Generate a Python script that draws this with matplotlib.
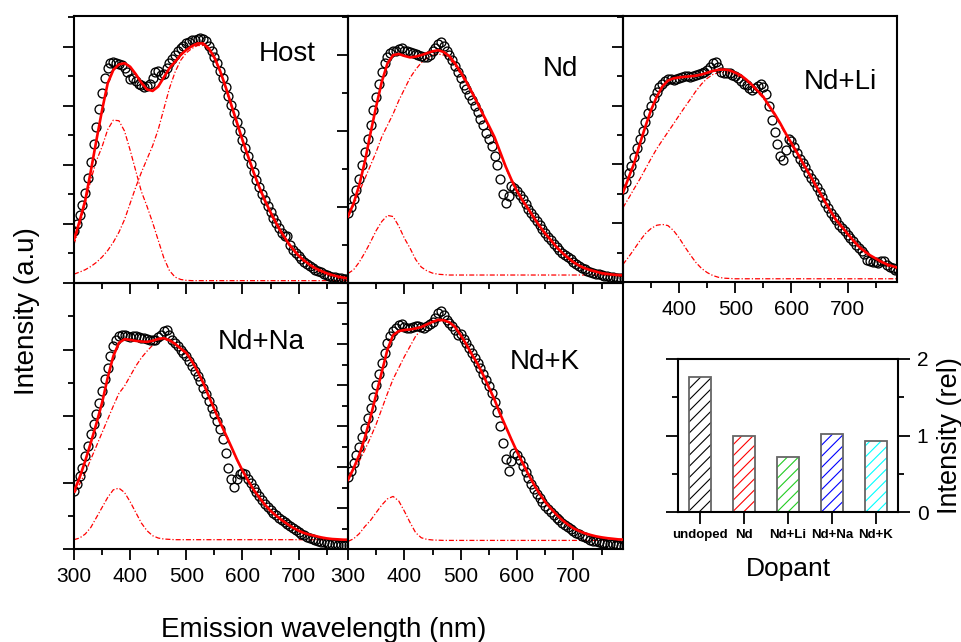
import numpy as np
import matplotlib.pyplot as plt

plt.rcParams['font.family'] = ['Liberation Sans', 'DejaVu Sans']
plt.rcParams['hatch.linewidth'] = 0.8

# wavelength grids (nm): measured points every 5 nm, fitted curves every 10 nm
wl_dat = np.arange(300, 791, 5)
wl_fit = np.arange(300, 791, 10)

# ---------------- Host ----------------
host_data = [1.75, 2.0, 2.3, 2.65, 3.05, 3.55, 4.1, 4.7, 5.3, 5.9,
             6.45, 6.95, 7.3, 7.45, 7.5, 7.45, 7.42, 7.38, 7.3, 7.15,
             6.9, 6.95, 6.85, 6.75, 6.7, 6.65, 6.68, 6.75, 6.95, 7.15,
             7.2, 7.05, 7.1, 7.3, 7.45, 7.6, 7.72, 7.85, 7.95, 8.05,
             8.12, 8.18, 8.22, 8.25, 8.28, 8.3, 8.28, 8.2, 8.05, 7.85,
             7.65, 7.45, 7.2, 6.95, 6.65, 6.35, 6.05, 5.75, 5.45, 5.15,
             4.85, 4.58, 4.3, 4.02, 3.75, 3.5, 3.25, 3.02, 2.8, 2.6,
             2.4, 2.2, 2.03, 1.86, 1.7, 1.6, 1.58, 1.3, 1.12, 1.0,
             0.9, 0.8, 0.72, 0.64, 0.56, 0.5, 0.45, 0.4, 0.36, 0.32,
             0.28, 0.25, 0.22, 0.2, 0.18, 0.16, 0.14, 0.13, 0.12]
host_fit = [1.46, 2.1, 2.8, 3.8, 4.85, 5.86, 6.77, 7.22, 7.41, 7.45,
            7.33, 7.08, 6.79, 6.56, 6.51, 6.66, 6.97, 7.28, 7.5, 7.73,
            7.9, 8.03, 8.12, 8.12, 7.95, 7.65, 7.2, 6.65, 6.05, 5.45,
            4.85, 4.3, 3.75, 3.25, 2.8, 2.4, 2.03, 1.7, 1.4, 1.15,
            0.93, 0.76, 0.62, 0.5, 0.41, 0.33, 0.27, 0.22, 0.18, 0.15]
host_g1 = [1.3, 1.95, 2.7, 3.5, 4.15, 4.62, 5.2, 5.52, 5.5, 5.15,
           4.5, 3.8, 3.1, 2.6, 2.05, 1.45, 0.85, 0.42, 0.2, 0.12,
           0.09, 0.08, 0.08, 0.08, 0.08, 0.08, 0.08, 0.08, 0.08, 0.08,
           0.08, 0.08, 0.08, 0.08, 0.08, 0.08, 0.08, 0.08, 0.08, 0.08,
           0.08, 0.08, 0.08, 0.08, 0.08, 0.08, 0.08, 0.08, 0.08, 0.08]
host_g2 = [0.3, 0.37, 0.45, 0.56, 0.7, 0.88, 1.1, 1.38, 1.72, 2.15,
           2.7, 3.25, 3.75, 4.2, 4.65, 5.2, 5.9, 6.6, 7.15, 7.55,
           7.8, 7.95, 8.05, 8.05, 7.9, 7.6, 7.15, 6.6, 6.0, 5.4,
           4.8, 4.25, 3.7, 3.2, 2.75, 2.35, 1.98, 1.65, 1.35, 1.1,
           0.88, 0.7, 0.56, 0.44, 0.35, 0.27, 0.21, 0.16, 0.12, 0.1]

# ---------------- Nd ----------------
nd_data = [1.85, 2.0, 2.2, 2.45, 2.75, 3.1, 3.45, 3.8, 4.15, 4.55,
           4.9, 5.25, 5.55, 5.8, 5.95, 6.05, 6.1, 6.1, 6.15, 6.2,
           6.1, 6.1, 6.08, 6.05, 6.02, 6.0, 5.98, 5.95, 5.95, 6.0,
           6.1, 6.2, 6.28, 6.35, 6.25, 6.12, 6.0, 5.88, 5.72, 5.55,
           5.4, 5.22, 5.1, 4.95, 4.82, 4.65, 4.5, 4.32, 4.15, 3.95,
           3.8, 3.6, 3.35, 3.1, 2.75, 2.35, 2.1, 2.3, 2.55, 2.5,
           2.42, 2.32, 2.2, 2.08, 1.96, 1.84, 1.73, 1.62, 1.52, 1.42,
           1.32, 1.22, 1.13, 1.04, 0.96, 0.88, 0.8, 0.74, 0.68, 0.62,
           0.56, 0.5, 0.45, 0.4, 0.36, 0.32, 0.29, 0.27, 0.25, 0.23,
           0.21, 0.19, 0.18, 0.16, 0.15, 0.14, 0.13, 0.12, 0.12]
nd_fit = [1.75, 2.1, 2.58, 3.2, 3.95, 4.65, 5.3, 5.78, 6.0, 6.03,
          5.98, 5.94, 5.96, 6.0, 6.05, 6.1, 6.13, 6.08, 5.97, 5.78,
          5.55, 5.3, 5.02, 4.73, 4.43, 4.14, 3.84, 3.45, 3.06, 2.72,
          2.42, 2.17, 1.95, 1.72, 1.5, 1.3, 1.13, 0.95, 0.8, 0.67,
          0.55, 0.46, 0.39, 0.34, 0.3, 0.26, 0.24, 0.22, 0.21, 0.2]
nd_g1 = [0.25, 0.35, 0.55, 0.8, 1.08, 1.38, 1.62, 1.78, 1.75, 1.5,
         1.18, 0.92, 0.62, 0.42, 0.32, 0.26, 0.23, 0.22, 0.21, 0.21,
         0.21, 0.21, 0.21, 0.21, 0.21, 0.21, 0.21, 0.21, 0.21, 0.21,
         0.21, 0.21, 0.21, 0.21, 0.21, 0.21, 0.21, 0.21, 0.21, 0.21,
         0.21, 0.21, 0.21, 0.21, 0.21, 0.21, 0.21, 0.21, 0.21, 0.21]
nd_g2 = [1.75, 2.05, 2.4, 2.75, 3.1, 3.45, 3.85, 4.15, 4.45, 4.8,
         5.1, 5.4, 5.62, 5.8, 5.92, 6.0, 6.03, 6.0, 5.9, 5.72,
         5.5, 5.26, 4.98, 4.7, 4.4, 4.11, 3.81, 3.42, 3.03, 2.69,
         2.39, 2.14, 1.92, 1.69, 1.47, 1.27, 1.1, 0.92, 0.77, 0.64,
         0.52, 0.43, 0.36, 0.31, 0.27, 0.23, 0.21, 0.19, 0.18, 0.17]

# ---------------- Nd+Li ----------------
li_data = [3.15, 3.4, 3.7, 3.95, 4.25, 4.55, 4.85, 5.15, 5.45, 5.75,
           6.0, 6.25, 6.45, 6.62, 6.75, 6.85, 6.92, 6.9, 6.88, 6.92,
           6.95, 6.97, 7.0, 7.0, 6.98, 7.0, 7.05, 7.08, 7.1, 7.15,
           7.2, 7.3, 7.45, 7.5, 7.3, 7.15, 7.1, 7.12, 7.1, 7.05,
           7.0, 6.95, 6.85, 6.75, 6.7, 6.6, 6.52, 6.6, 6.68, 6.72,
           6.65, 6.4, 6.0, 5.5, 5.1, 4.7, 4.3, 4.15, 4.5, 4.85,
           4.8, 4.6, 4.4, 4.2, 4.05, 3.9, 3.72, 3.55, 3.4, 3.22,
           3.05, 2.88, 2.7, 2.52, 2.35, 2.2, 2.1, 1.95, 1.85, 1.72,
           1.6, 1.5, 1.38, 1.25, 1.15, 1.05, 0.95, 0.75, 0.7, 0.68,
           0.68, 0.65, 0.72, 0.7, 0.58, 0.52, 0.46, 0.42, 0.4]
li_fit = [3.04, 3.55, 4.05, 4.7, 5.3, 5.85, 6.3, 6.65, 6.85, 6.93,
          6.96, 6.98, 7.0, 7.02, 7.06, 7.12, 7.18, 7.22, 7.23, 7.2,
          7.12, 7.03, 6.88, 6.7, 6.5, 6.3, 6.0, 5.72, 5.4, 5.05,
          4.72, 4.4, 4.06, 3.73, 3.4, 3.07, 2.73, 2.4, 2.1, 1.88,
          1.64, 1.42, 1.21, 1.05, 0.91, 0.8, 0.69, 0.6, 0.54, 0.48]
li_g1 = [0.6, 0.85, 1.12, 1.4, 1.65, 1.82, 1.93, 1.96, 1.92, 1.75,
         1.5, 1.2, 0.92, 0.66, 0.46, 0.32, 0.22, 0.16, 0.13, 0.12,
         0.11, 0.11, 0.11, 0.11, 0.11, 0.11, 0.11, 0.11, 0.11, 0.11,
         0.11, 0.11, 0.11, 0.11, 0.11, 0.11, 0.11, 0.11, 0.11, 0.11,
         0.11, 0.11, 0.11, 0.11, 0.11, 0.11, 0.11, 0.11, 0.11, 0.11]
li_g2 = [2.53, 2.85, 3.18, 3.5, 3.85, 4.2, 4.53, 4.82, 5.1, 5.38,
         5.67, 5.95, 6.22, 6.5, 6.74, 6.93, 7.06, 7.12, 7.13, 7.1,
         7.03, 6.98, 6.83, 6.65, 6.45, 6.25, 5.95, 5.67, 5.35, 5.0,
         4.67, 4.35, 4.01, 3.68, 3.35, 3.02, 2.68, 2.35, 2.05, 1.83,
         1.59, 1.37, 1.16, 1.0, 0.86, 0.75, 0.64, 0.55, 0.49, 0.43]

# ---------------- Nd+Na ----------------
na_data = [1.75, 1.95, 2.2, 2.45, 2.8, 3.1, 3.45, 3.75, 4.05, 4.4,
           4.75, 5.1, 5.45, 5.8, 6.1, 6.3, 6.4, 6.43, 6.45, 6.4,
           6.38, 6.4, 6.42, 6.38, 6.35, 6.35, 6.33, 6.3, 6.28, 6.3,
           6.38, 6.45, 6.55, 6.58, 6.45, 6.3, 6.2, 6.1, 6.0, 5.9,
           5.8, 5.65, 5.5, 5.35, 5.2, 5.05, 4.85, 4.65, 4.45, 4.25,
           4.05, 3.85, 3.6, 3.3, 2.9, 2.45, 2.1, 1.85, 2.1, 2.25,
           2.3, 2.25, 2.12, 1.98, 1.84, 1.7, 1.58, 1.47, 1.36, 1.26,
           1.17, 1.09, 1.01, 0.94, 0.88, 0.82, 0.74, 0.68, 0.62, 0.58,
           0.52, 0.46, 0.41, 0.37, 0.33, 0.3, 0.27, 0.24, 0.22, 0.2,
           0.18, 0.16, 0.15, 0.14, 0.13, 0.12, 0.12, 0.11, 0.11]
na_fit = [1.73, 2.15, 2.65, 3.2, 3.78, 4.4, 5.15, 5.8, 6.2, 6.31,
          6.29, 6.26, 6.24, 6.23, 6.26, 6.32, 6.34, 6.28, 6.17, 6.03,
          5.9, 5.65, 5.35, 5.0, 4.6, 4.2, 3.82, 3.45, 3.08, 2.7,
          2.36, 2.06, 1.78, 1.55, 1.33, 1.15, 1.0, 0.87, 0.75, 0.64,
          0.55, 0.48, 0.43, 0.39, 0.35, 0.32, 0.3, 0.29, 0.28, 0.28]
na_g1 = [0.28, 0.33, 0.45, 0.65, 0.95, 1.25, 1.55, 1.78, 1.83, 1.7,
         1.42, 1.1, 0.78, 0.55, 0.4, 0.33, 0.3, 0.29, 0.28, 0.28,
         0.28, 0.28, 0.28, 0.28, 0.28, 0.28, 0.28, 0.28, 0.28, 0.28,
         0.28, 0.28, 0.28, 0.28, 0.28, 0.28, 0.28, 0.28, 0.28, 0.28,
         0.28, 0.28, 0.28, 0.28, 0.28, 0.28, 0.28, 0.28, 0.28, 0.28]
na_g2 = [1.65, 1.95, 2.3, 2.7, 3.1, 3.5, 3.9, 4.3, 4.68, 4.9,
         5.2, 5.5, 5.75, 5.95, 6.13, 6.27, 6.3, 6.26, 6.15, 6.0,
         5.87, 5.63, 5.33, 4.98, 4.58, 4.18, 3.8, 3.43, 3.06, 2.68,
         2.34, 2.04, 1.76, 1.53, 1.31, 1.13, 0.98, 0.85, 0.73, 0.62,
         0.53, 0.46, 0.41, 0.37, 0.33, 0.3, 0.28, 0.27, 0.26, 0.26]

# ---------------- Nd+K ----------------
k_data = [3.5, 3.8, 4.2, 4.6, 5.0, 5.45, 5.9, 6.4, 6.9, 7.45,
          8.0, 8.55, 9.1, 9.6, 10.05, 10.4, 10.65, 10.8, 10.95, 11.0,
          10.85, 10.8, 10.82, 10.85, 10.88, 10.9, 10.85, 10.8, 10.9, 11.0,
          11.1, 11.3, 11.55, 11.65, 11.45, 11.2, 11.05, 10.9, 10.7, 10.45,
          10.5, 10.25, 10.05, 9.8, 9.6, 9.35, 9.1, 8.85, 8.55, 8.25,
          7.95, 7.6, 7.2, 6.7, 6.0, 5.2, 4.4, 3.8, 4.3, 4.7,
          4.6, 4.35, 4.05, 3.75, 3.48, 3.2, 2.95, 2.7, 2.5, 2.3,
          2.12, 1.95, 1.8, 1.65, 1.52, 1.4, 1.28, 1.18, 1.08, 0.98,
          0.9, 0.8, 0.72, 0.65, 0.58, 0.52, 0.46, 0.41, 0.37, 0.33,
          0.3, 0.28, 0.26, 0.24, 0.22, 0.2, 0.18, 0.16, 0.15]
k_fit = [3.38, 3.95, 4.6, 5.45, 6.45, 7.55, 8.65, 9.75, 10.45, 10.65,
         10.7, 10.73, 10.78, 10.85, 10.98, 11.1, 11.2, 11.18, 11.08, 10.85,
         10.45, 10.0, 9.5, 9.05, 8.5, 7.9, 7.3, 6.6, 5.98, 5.35,
         4.75, 4.2, 3.65, 3.15, 2.7, 2.3, 1.98, 1.68, 1.42, 1.2,
         1.01, 0.88, 0.77, 0.69, 0.62, 0.57, 0.53, 0.5, 0.47, 0.46]
k_g1 = [0.37, 0.5, 0.75, 1.1, 1.4, 1.78, 2.15, 2.45, 2.57, 2.35,
        1.85, 1.3, 0.8, 0.55, 0.47, 0.44, 0.43, 0.42, 0.42, 0.42,
        0.42, 0.42, 0.42, 0.42, 0.42, 0.42, 0.42, 0.42, 0.42, 0.42,
        0.42, 0.42, 0.42, 0.42, 0.42, 0.42, 0.42, 0.42, 0.42, 0.42,
        0.42, 0.42, 0.42, 0.42, 0.42, 0.42, 0.42, 0.42, 0.42, 0.42]
k_g2 = [3.4, 3.9, 4.3, 4.85, 5.45, 6.1, 6.85, 7.6, 8.3, 8.85,
        9.4, 9.9, 10.4, 10.72, 10.95, 11.05, 11.15, 11.15, 11.05, 10.83,
        10.43, 9.98, 9.48, 9.03, 8.48, 7.88, 7.28, 6.58, 5.96, 5.33,
        4.73, 4.18, 3.63, 3.13, 2.68, 2.28, 1.96, 1.66, 1.4, 1.18,
        0.99, 0.86, 0.75, 0.67, 0.6, 0.55, 0.51, 0.48, 0.45, 0.44]

# ---------------- inset bar chart ----------------
dopants = ['undoped', 'Nd', 'Nd+Li', 'Nd+Na', 'Nd+K']
rel_int = [1.76, 1.0, 0.72, 1.02, 0.93]
bar_colors = ['black', 'red', '#22cc22', 'blue', 'cyan']


W, H = 962, 642
fig = plt.figure(figsize=(W / 100, H / 100), dpi=100)


def box(x0, y0, x1, y1):
    # pixel box (top-left origin) -> figure fraction rect
    return [x0 / W, 1 - y1 / H, (x1 - x0) / W, (y1 - y0) / H]


def spectrum_panel(rect, data, fit, g1, g2, ytop, label, lab_xy, xlabels):
    ax = fig.add_axes(rect)
    ax.set_facecolor('none')
    dash = (0, (4, 1.6, 1, 1.6))
    ax.plot(wl_fit, g1, color='red', lw=0.9, ls=dash, zorder=1)
    ax.plot(wl_fit, g2, color='red', lw=0.9, ls=dash, zorder=1)
    ax.plot(wl_dat, data, 'o', ms=6.4, mfc='none', mec='black', mew=0.95, zorder=2)
    ax.plot(wl_fit, fit, color='red', lw=1.9, zorder=3)
    ax.set_xlim(300, 788)
    ax.set_ylim(0, ytop)
    ax.set_xticks([300, 400, 500, 600, 700])
    ax.set_xticks([350, 450, 550, 650, 750], minor=True)
    ax.set_yticks(np.arange(0, ytop, 2))
    ax.set_yticks(np.arange(1, ytop, 2), minor=True)
    ax.set_yticklabels([])
    if xlabels is None:
        ax.set_xticklabels([])
    else:
        ax.set_xticklabels(xlabels)
    ax.tick_params(direction='out', which='major', length=8, width=1.3,
                   labelsize=15, pad=5)
    ax.tick_params(direction='out', which='minor', length=4.5, width=1.3)
    for s in ax.spines.values():
        s.set_linewidth(1.5)
    ax.text(lab_xy[0], lab_xy[1], label, transform=ax.transAxes,
            ha='right', va='center', fontsize=20)
    return ax


full = ['300', '400', '500', '600', '700']
spectrum_panel(box(74, 16, 348, 283), host_data, host_fit, host_g1, host_g2,
               9.05, 'Host', (0.883, 0.856), None)
spectrum_panel(box(348, 16, 623, 283), nd_data, nd_fit, nd_g1, nd_g2,
               7.03, 'Nd', (0.836, 0.801), None)
spectrum_panel(box(623, 16, 897, 282), li_data, li_fit, li_g1, li_g2,
               9.05, 'Nd+Li', (0.927, 0.752), ['', '400', '500', '600', '700'])
spectrum_panel(box(74, 283, 348, 549), na_data, na_fit, na_g1, na_g2,
               8.0, 'Nd+Na', (0.843, 0.778), full)
spectrum_panel(box(348, 283, 623, 549), k_data, k_fit, k_g1, k_g2,
               13.0, 'Nd+K', (0.844, 0.703), full)

fig.text(324 / W, 1 - 630 / H, 'Emission wavelength (nm)', ha='center',
         va='center', fontsize=20)
fig.text(27 / W, 1 - 311 / H, 'Intensity (a.u)', rotation=90, ha='center',
         va='center', fontsize=20)

# bar chart of relative intensities
axb = fig.add_axes(box(678, 359, 898, 512))
xpos = np.arange(1, 6)
axb.bar(xpos, rel_int, 0.5, color='none', edgecolor=bar_colors, hatch='///', lw=0)
axb.bar(xpos, rel_int, 0.5, fill=False, edgecolor='0.4', lw=1.3)
axb.set_xlim(0.5, 5.5)
axb.set_ylim(0, 2)
axb.set_xticks(xpos)
axb.set_yticks([0, 1, 2])
axb.set_yticks([0.5, 1.5], minor=True)
axb.tick_params(axis='y', which='both', left=True, right=True,
                labelleft=False, labelright=True)
axb.tick_params(direction='out', which='major', length=8.5, width=1.3, pad=5)
axb.tick_params(direction='out', which='minor', length=4.5, width=1.3)
axb.tick_params(axis='y', labelsize=15)
axb.tick_params(axis='x', pad=4)
axb.set_xticklabels(dopants, fontsize=9.5, fontweight='bold')

for s in axb.spines.values():
    s.set_linewidth(1.5)
axb.yaxis.set_label_position('right')
axb.set_ylabel('Intensity (rel)', fontsize=19.5, labelpad=6)
axb.set_xlabel('Dopant', fontsize=19, labelpad=11)

fig.savefig('out.png', dpi=100)
